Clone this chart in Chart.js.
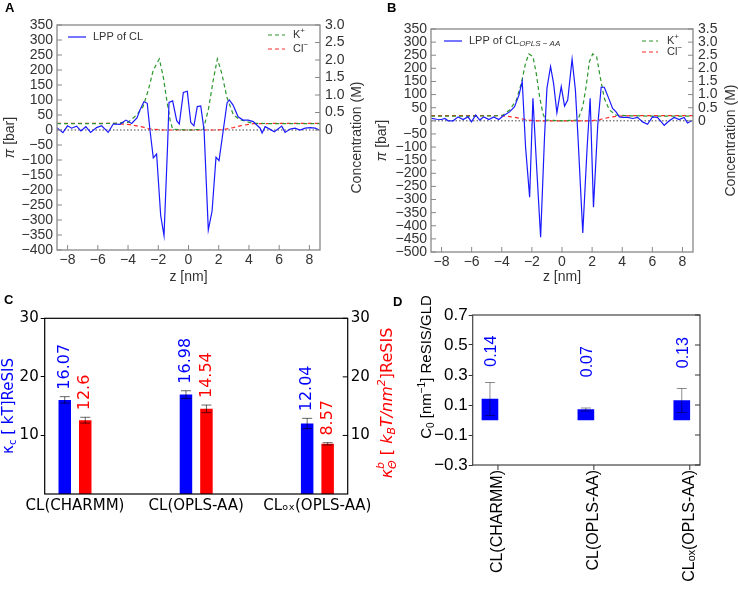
<!DOCTYPE html>
<html>
<head>
<meta charset="utf-8">
<script src="https://cdn.jsdelivr.net/npm/chart.js@4.4.1/dist/chart.umd.min.js"></script>
<style>
  html, body { margin: 0; padding: 0; background: #fff; }
  #wrap { position: relative; width: 738px; height: 590px; overflow: hidden; }
  #wrap canvas { position: absolute; }
  .tag { position: absolute; font: bold 13px "Liberation Sans", Arial, sans-serif; line-height: 13px; color: #000; }
</style>
</head>
<body>
<div id="wrap">
  <canvas id="chartA" width="370" height="290" style="left:0;top:0"></canvas>
  <canvas id="chartB" width="368" height="290" style="left:370px;top:0"></canvas>
  <canvas id="chartC" width="410" height="300" style="left:0;top:290px"></canvas>
  <canvas id="chartD" width="368" height="300" style="left:370px;top:290px"></canvas>
  <div class="tag" style="left:5px;top:1px">A</div>
  <div class="tag" style="left:387px;top:1px">B</div>
  <div class="tag" style="left:4px;top:293px">C</div>
  <div class="tag" style="left:393px;top:295px">D</div>
</div>
<script>
// ---- panel A: lateral pressure profile of CL (bar) + ion concentration (M)
const zA = [-8.71, -8.31, -8.0, -7.74, -7.40, -7.12, -6.79, -6.48, -6.08, -5.75,
  -5.31, -4.98, -4.54, -4.14, -3.76, -3.41, -3.21, -2.95, -2.73, -2.55,
  -2.33, -2.11, -1.84, -1.62, -1.38, -1.29, -1.05, -0.78, -0.61, -0.34,
  -0.08, 0.15, 0.36, 0.58, 0.81, 1.03, 1.31, 1.56, 1.82, 2.02,
  2.22, 2.55, 2.70, 2.95, 3.28, 3.61, 3.95, 4.28, 4.74, 4.87,
  5.07, 5.40, 5.68, 6.17, 6.39, 6.72, 7.05, 7.38, 7.72, 8.05, 8.38, 8.66];
const lppA = [8, -9, 14, 6, 13, -3, 11, -8, 8, 14,
  -8, 20, 19, 33, 22, 40, 67, 94, 89, 0,
  -93, -80, -285, -352, -46, 92, 97, 31, 20, 125,
  129, 25, 14, 78, 80, 0, -333, -270, -91, -102,
  -30, 90, 100, 83, 44, 33, 33, 28, 6, -10,
  11, 2, -6, 13, -8, 3, 6, 0, 6, 8, 6, 0];
const zIonA = [-8.7, -6, -5, -4.0, -3.43, -3.0, -2.66, -2.33, -1.93, -1.67, -1.44, -1.22, -1.05,
  0, 0.98, 1.31, 1.64, 1.91, 2.2, 2.53, 2.97, 3.41, 4.29, 6, 8.7];
const kA = [0.18, 0.18, 0.19, 0.22, 0.43, 0.67, 1.14, 1.71, 2.03, 1.52, 0.86, 0.29, 0.02,
  0.0, 0.02, 0.57, 1.43, 2.03, 1.62, 0.95, 0.43, 0.29, 0.19, 0.18, 0.18];
const clA = [0.19, 0.19, 0.19, 0.16, 0.12, 0.08, 0.04, 0.02, 0.01, 0, 0, 0, 0,
  0, 0, 0, 0, 0, 0.01, 0.03, 0.07, 0.12, 0.18, 0.19, 0.19];

// ---- panel B: same for CL(OPLS-AA)
const zB = [-8.66, -8.33, -8.0, -7.78, -7.56, -7.23, -6.90, -6.57, -6.24, -6.01,
  -5.73, -5.46, -5.20, -4.85, -4.54, -4.19, -3.92, -3.48, -3.15, -2.86,
  -2.64, -2.42, -2.15, -1.93, -1.71, -1.42, -1.16, -1.0, -0.76, -0.56,
  -0.34, -0.05, 0.17, 0.38, 0.67, 0.89, 1.06, 1.38, 1.67, 1.87,
  2.09, 2.37, 2.60, 2.81, 3.15, 3.36, 3.59, 3.81, 4.03, 4.36,
  4.69, 5.02, 5.35, 5.68, 6.01, 6.34, 6.79, 7.12, 7.45, 7.78, 8.11, 8.33, 8.62];
const lppB = [9, 6, 5, 9, 0, 0, 15, 5, 15, -4,
  22, 3, 15, 5, 15, 5, 18, 34, 54, 98,
  150, -100, -291, 86, -150, -444, -60, 124, 207, 143,
  31, 130, 56, 79, 235, 117, -60, -427, -100, 86,
  -329, -20, 128, 128, 79, 47, 34, 15, 13, 13,
  9, 13, -4, -13, 15, 13, -17, 0, 13, 5, 13, -8, 0];
const zIonB = [-8.7, -6, -4.5, -3.92, -3.48, -3.03, -2.70, -2.42, -2.20, -1.93,
  -1.71, -1.49, -1.27, -1.09, 0, 1.05, 1.38, 1.60, 1.82, 2.04,
  2.30, 2.53, 2.81, 3.15, 3.59, 4.5, 6, 8.7];
const kB = [0.18, 0.18, 0.19, 0.22, 0.41, 0.79, 1.43, 2.2, 2.55, 2.45,
  1.81, 0.92, 0.28, 0.03, 0.0, 0.03, 0.54, 1.30, 2.26, 2.55,
  2.45, 1.69, 0.86, 0.41, 0.22, 0.19, 0.18, 0.18];
const clB = [0.2, 0.2, 0.2, 0.19, 0.16, 0.12, 0.08, 0.05, 0.03, 0.01,
  0, 0, 0, 0, 0, 0, 0, 0, 0, 0.01,
  0.03, 0.05, 0.09, 0.13, 0.17, 0.2, 0.2, 0.2];
const zTicks = [-8, -6, -4, -2, 0, 2, 4, 6, 8];

// ---- panels C and D: bending moduli and spontaneous curvature
const lipids = ['CL(CHARMM)', 'CL(OPLS-AA)', 'CL\u2092\u2093(OPLS-AA)'];
const kappaC = [16.07, 16.98, 12.04];
const kappaCErr = [0.55, 0.65, 0.88];
const kappaTheta = [12.6, 14.54, 8.57];
const kappaThetaErr = [0.5, 0.65, 0.2];
const kappaTicks = [10, 20, 30];
const c0 = [0.14, 0.07, 0.13];
const c0Err = [0.11, 0.01, 0.08];
const c0Ticks = [-0.3, -0.1, 0.1, 0.3, 0.5, 0.7];

const SANS = '"Liberation Sans", Arial, sans-serif';
const DEJA = '"DejaVu Sans", sans-serif';
const fnt = (size, fam, style) => (style ? style + ' ' : '') + size + 'px ' + (fam || SANS);
const minus = v => String(v).replace('-', '\u2212');
const pts = (xs, ys) => xs.map((x, i) => ({ x: x, y: ys[i] }));
const idx = ys => ys.map((y, i) => ({ x: i, y: y }));

Chart.defaults.font.family = SANS;
Chart.defaults.color = '#333';

// text made of pieces (sub/superscripts), optionally rotated
function richText(ctx, parts, x, y, rot, color, align) {
  ctx.save();
  ctx.translate(x, y);
  ctx.rotate(rot || 0);
  ctx.textBaseline = 'middle';
  ctx.textAlign = 'left';
  let w = 0;
  parts.forEach(p => { ctx.font = p.f; p.w = ctx.measureText(p.t).width; if (!p.stack) w += p.w; });
  let cx = align === 'left' ? 0 : -w / 2;
  parts.forEach(p => {
    ctx.font = p.f;
    ctx.fillStyle = p.c || color;
    ctx.fillText(p.t, cx, p.dy || 0);
    if (!p.stack) cx += p.w;
  });
  ctx.restore();
}

function legendLine(ctx, x0, x1, y, color, dash) {
  ctx.save();
  ctx.strokeStyle = color;
  ctx.lineWidth = 1.2;
  ctx.setLineDash(dash || []);
  ctx.beginPath(); ctx.moveTo(x0, y); ctx.lineTo(x1, y); ctx.stroke();
  ctx.restore();
}

function errorBars(chart, dsIndex, vals, errs, color) {
  const ctx = chart.ctx;
  const meta = chart.getDatasetMeta(dsIndex);
  const s = chart.scales[meta.yAxisID];
  ctx.save();
  ctx.strokeStyle = color;
  ctx.lineWidth = 1;
  meta.data.forEach((el, i) => {
    const t = s.getPixelForValue(vals[i] + errs[i]);
    const b = s.getPixelForValue(vals[i] - errs[i]);
    ctx.beginPath();
    ctx.moveTo(el.x, t); ctx.lineTo(el.x, b);
    ctx.moveTo(el.x - 5, t); ctx.lineTo(el.x + 5, t);
    ctx.moveTo(el.x - 5, b); ctx.lineTo(el.x + 5, b);
    ctx.stroke();
  });
  ctx.restore();
}

// frame, inward ticks, zero line and the extra drawing of each panel
function decor(o) {
  return {
    id: 'decor',
    beforeDatasetsDraw(chart) {
      if (!o.zeroLine) return;
      const { ctx, chartArea: a, scales } = chart;
      const y = scales.y.getPixelForValue(0);
      ctx.save();
      ctx.strokeStyle = '#444';
      ctx.lineWidth = 1;
      ctx.setLineDash([1.5, 2]);
      ctx.beginPath(); ctx.moveTo(a.left, y); ctx.lineTo(a.right, y); ctx.stroke();
      ctx.restore();
    },
    afterDatasetsDraw(chart) {
      const { ctx, chartArea: a, scales } = chart;
      ctx.save();
      ctx.strokeStyle = o.frame;
      ctx.lineWidth = 1;
      (o.inTicks || []).forEach(id => {
        const s = scales[id];
        s.ticks.forEach(t => {
          const p = s.getPixelForValue(t.value);
          ctx.beginPath();
          if (s.position === 'bottom') { ctx.moveTo(p, a.bottom); ctx.lineTo(p, a.bottom - 5); }
          else if (s.position === 'left') { ctx.moveTo(a.left, p); ctx.lineTo(a.left + 5, p); }
          else { ctx.moveTo(a.right, p); ctx.lineTo(a.right - 5, p); }
          ctx.stroke();
        });
      });
      ctx.lineWidth = o.frameWidth;
      ctx.strokeRect(a.left, a.top, a.right - a.left, a.bottom - a.top);
      ctx.restore();
      if (o.after) o.after(chart);
    }
  };
}

const noGrid = { display: false, drawTicks: false };

function lppScales(piMin, piMax, concMin, concMax, w) {
  return {
    x: {
      type: 'linear', min: -8.7, max: 8.7,
      afterBuildTicks: s => { s.ticks = zTicks.map(v => ({ value: v })); },
      ticks: { font: { size: 14 }, color: '#333', padding: 2, maxRotation: 0, autoSkip: false, callback: v => minus(v) },
      grid: noGrid, border: { display: false },
      title: { display: true, text: 'z [nm]', font: { size: 14 }, color: '#333', padding: { top: 0, bottom: 4 } },
      afterFit: s => { s.height = w.bottom; }
    },
    y: {
      min: piMin, max: piMax,
      ticks: { stepSize: 50, autoSkip: false, font: { size: 14 }, color: '#333', padding: 4, callback: v => minus(v) },
      grid: noGrid, border: { display: false },
      afterFit: s => { s.width = w.left; }
    },
    y1: {
      position: 'right', min: concMin, max: concMax,
      ticks: { stepSize: 0.5, autoSkip: false, font: { size: 14 }, color: '#333', padding: 5,
        callback: v => (Math.abs(v) < 1e-9 ? '0' : v.toFixed(1)) },
      afterBuildTicks: s => { s.ticks = s.ticks.filter(t => t.value > -1e-9); },
      grid: noGrid, border: { display: false },
      afterFit: s => { s.width = w.right; }
    }
  };
}

function lppDatasets(z, lpp, zIon, k, cl) {
  return [
    { data: pts(z, lpp), borderColor: '#1a1aff', borderWidth: 1.2, pointRadius: 0, yAxisID: 'y' },
    { data: pts(zIon, k), borderColor: '#2c962c', borderDash: [4, 3], borderWidth: 1.2, pointRadius: 0, yAxisID: 'y1' },
    { data: pts(zIon, cl), borderColor: '#ff2a2a', borderDash: [4, 3], borderWidth: 1.2, pointRadius: 0, yAxisID: 'y1' }
  ];
}

const noPlug = { legend: { display: false }, tooltip: { enabled: false } };

// ---- A
new Chart(document.getElementById('chartA'), {
  type: 'line',
  data: { datasets: lppDatasets(zA, lppA, zIonA, kA, clA) },
  options: {
    responsive: false, animation: false,
    layout: { padding: { top: 25 } },
    plugins: noPlug,
    scales: lppScales(-400, 350, -3.0 * 400 / 350, 3.0, { left: 57, right: 50, bottom: 40 })
  },
  plugins: [decor({
    frame: '#888', frameWidth: 1.3, zeroLine: true, inTicks: ['x', 'y', 'y1'],
    after(chart) {
      const ctx = chart.ctx;
      richText(ctx, [{ t: '\u03c0', f: fnt(14, SANS, 'italic') }, { t: ' [bar]', f: fnt(14) }], 10, 137.5, -Math.PI / 2, '#333');
      richText(ctx, [{ t: 'Concentration (M)', f: fnt(14) }], 357, 137.5, -Math.PI / 2, '#333');
      legendLine(ctx, 68, 86, 37, '#1a1aff');
      richText(ctx, [{ t: 'LPP of CL', f: fnt(11) }], 93, 37, 0, '#333', 'left');
      legendLine(ctx, 268, 285, 35, '#2c962c', [4, 3]);
      richText(ctx, [{ t: 'K', f: fnt(11) }, { t: '+', f: fnt(8), dy: -4 }], 293, 35, 0, '#333', 'left');
      legendLine(ctx, 268, 285, 49, '#ff2a2a', [4, 3]);
      richText(ctx, [{ t: 'Cl', f: fnt(11) }, { t: '\u2212', f: fnt(8), dy: -4 }], 293, 49, 0, '#333', 'left');
    }
  })]
});

// ---- B
new Chart(document.getElementById('chartB'), {
  type: 'line',
  data: { datasets: lppDatasets(zB, lppB, zIonB, kB, clB) },
  options: {
    responsive: false, animation: false,
    layout: { padding: { top: 29 } },
    plugins: noPlug,
    scales: lppScales(-500, 350, -5.0, 3.5, { left: 61, right: 45, bottom: 38 })
  },
  plugins: [decor({
    frame: '#888', frameWidth: 1.3, zeroLine: true, inTicks: ['x', 'y', 'y1'],
    after(chart) {
      const ctx = chart.ctx;
      richText(ctx, [{ t: '\u03c0', f: fnt(14, SANS, 'italic') }, { t: ' [bar]', f: fnt(14) }], 12.5, 140.5, -Math.PI / 2, '#333');
      richText(ctx, [{ t: 'Concentration (M)', f: fnt(14) }], 361, 140.5, -Math.PI / 2, '#333');
      legendLine(ctx, 74, 92, 41, '#1a1aff');
      richText(ctx, [{ t: 'LPP of CL', f: fnt(11) }, { t: 'OPLS \u2212 AA', f: fnt(8, SANS, 'italic'), dy: 3 }], 99, 41, 0, '#333', 'left');
      legendLine(ctx, 272, 288, 41, '#2c962c', [4, 3]);
      richText(ctx, [{ t: 'K', f: fnt(11) }, { t: '+', f: fnt(8), dy: -4 }], 297, 41, 0, '#333', 'left');
      legendLine(ctx, 272, 288, 52, '#ff2a2a', [4, 3]);
      richText(ctx, [{ t: 'Cl', f: fnt(11) }, { t: '\u2212', f: fnt(8), dy: -4 }], 297, 52, 0, '#333', 'left');
    }
  })]
});

// ---- C
new Chart(document.getElementById('chartC'), {
  type: 'bar',
  data: { datasets: [
    { data: idx(kappaC), backgroundColor: '#0000ff', yAxisID: 'y', categoryPercentage: 0.338, barPercentage: 0.61 },
    { data: idx(kappaTheta), backgroundColor: '#ff0000', yAxisID: 'y1', categoryPercentage: 0.338, barPercentage: 0.61 }
  ] },
  options: {
    responsive: false, animation: false,
    layout: { padding: { top: 28.3 } },
    plugins: noPlug,
    scales: {
      x: {
        type: 'linear', min: -0.25, max: 2.25, offset: false,
        afterBuildTicks: s => { s.ticks = lipids.map((c, i) => ({ value: i })); },
        ticks: { font: { family: DEJA, size: 15 }, color: '#000', padding: 3, maxRotation: 0, autoSkip: false,
          callback: v => lipids[v] },
        grid: { display: false, drawTicks: false, offset: false }, border: { display: false },
        afterFit: s => { s.height = 96; }
      },
      y: {
        min: 0, max: 30,
        afterBuildTicks: s => { s.ticks = kappaTicks.map(v => ({ value: v })); },
        ticks: { font: { family: DEJA, size: 15 }, color: '#000', padding: 2 },
        grid: { drawOnChartArea: false, tickLength: 4, color: '#000' }, border: { display: false },
        afterFit: s => { s.width = 44.7; }
      },
      y1: {
        position: 'right', min: 0, max: 30,
        afterBuildTicks: s => { s.ticks = kappaTicks.map(v => ({ value: v })); },
        ticks: { font: { family: DEJA, size: 15 }, color: '#000', padding: 3 },
        grid: noGrid, border: { display: false },
        afterFit: s => { s.width = 62.3; }
      }
    }
  },
  plugins: [decor({
    frame: '#000', frameWidth: 1.2, inTicks: ['y1'],
    after(chart) {
      const ctx = chart.ctx;
      errorBars(chart, 0, kappaC, kappaCErr, 'rgba(0,0,0,0.6)');
      errorBars(chart, 1, kappaTheta, kappaThetaErr, 'rgba(0,0,0,0.6)');
      [[0, kappaC, kappaCErr, '#0000ff'], [1, kappaTheta, kappaThetaErr, '#ff0000']].forEach(([d, vals, errs, col]) => {
        const meta = chart.getDatasetMeta(d);
        const s = chart.scales[meta.yAxisID];
        meta.data.forEach((el, i) => {
          richText(ctx, [{ t: String(vals[i]), f: fnt(16, DEJA) }], el.x, s.getPixelForValue(vals[i] + errs[i] + 1.2),
            -Math.PI / 2, col, 'left');
        });
      });
      richText(ctx, [
        { t: '\u03ba', f: fnt(15, DEJA) }, { t: 'c', f: fnt(10, DEJA), dy: 4 }, { t: ' [ kT]ReSIS', f: fnt(15, DEJA) }
      ], 9, 116, -Math.PI / 2, '#0000ff');
      richText(ctx, [
        { t: '\u03ba', f: fnt(16, DEJA, 'italic') },
        { t: 'b', f: fnt(11, DEJA, 'italic'), dy: -7, stack: true },
        { t: '\u0398', f: fnt(11, DEJA, 'italic'), dy: 5 },
        { t: ' [ ', f: fnt(16, DEJA) },
        { t: 'k', f: fnt(16, DEJA, 'italic') }, { t: 'B', f: fnt(11, DEJA, 'italic'), dy: 4 },
        { t: 'T/nm', f: fnt(16, DEJA, 'italic') }, { t: '2', f: fnt(11, DEJA, 'italic'), dy: -6 },
        { t: ']ReSIS', f: fnt(16, DEJA) }
      ], 388, 113, -Math.PI / 2, '#ff0000');
    }
  })]
});

// ---- D
new Chart(document.getElementById('chartD'), {
  type: 'bar',
  data: { datasets: [
    { data: idx(c0), backgroundColor: '#0000ff', barThickness: 16 }
  ] },
  options: {
    responsive: false, animation: false,
    layout: { padding: { top: 25, right: 38 } },
    plugins: noPlug,
    scales: {
      x: {
        type: 'linear', min: -0.18, max: 2.19, offset: false,
        afterBuildTicks: s => { s.ticks = lipids.map((c, i) => ({ value: i })); },
        ticks: { font: { size: 16 }, color: '#000', padding: 5, minRotation: 90, maxRotation: 90, labelOffset: 8,
          autoSkip: false, callback: v => lipids[v] },
        grid: { display: false, drawTicks: false, offset: false }, border: { display: false },
        afterFit: s => { s.height = 125; }
      },
      y: {
        min: -0.3, max: 0.7,
        afterBuildTicks: s => { s.ticks = c0Ticks.map(v => ({ value: v })); },
        ticks: { font: { size: 17 }, color: '#000', padding: 1, callback: v => minus(v.toFixed(1)) },
        grid: { drawOnChartArea: false, tickLength: 4, color: '#333' }, border: { display: false },
        afterFit: s => { s.width = 102.7; }
      }
    }
  },
  plugins: [decor({
    frame: '#444', frameWidth: 1.2, inTicks: [],
    after(chart) {
      const ctx = chart.ctx;
      const a = chart.chartArea;
      const ys = chart.scales.y;
      errorBars(chart, 0, c0, c0Err, 'rgba(0,0,0,0.45)');
      ctx.save();
      ctx.strokeStyle = '#333';
      ctx.lineWidth = 1;
      chart.getDatasetMeta(0).data.forEach(el => {
        ctx.beginPath(); ctx.moveTo(el.x + 8, a.bottom); ctx.lineTo(el.x + 8, a.bottom + 5); ctx.stroke();
      });
      c0Ticks.forEach(v => {
        const p = ys.getPixelForValue(v);
        ctx.beginPath(); ctx.moveTo(a.right, p); ctx.lineTo(a.right - 5, p); ctx.stroke();
      });
      ctx.restore();
      chart.getDatasetMeta(0).data.forEach((el, i) => {
        richText(ctx, [{ t: c0[i].toFixed(2), f: fnt(16) }], el.x + 2, ys.getPixelForValue(c0[i] + 0.215),
          -Math.PI / 2, '#0000ff', 'left');
      });
      richText(ctx, [
        { t: 'C', f: fnt(15) }, { t: '0', f: fnt(10), dy: 4 }, { t: ' [nm', f: fnt(15) },
        { t: '\u22121', f: fnt(10), dy: -5 }, { t: '] ReSIS/GLD', f: fnt(15) }
      ], 57, 77, -Math.PI / 2, '#000');
    }
  })]
});
</script>
</body>
</html>
